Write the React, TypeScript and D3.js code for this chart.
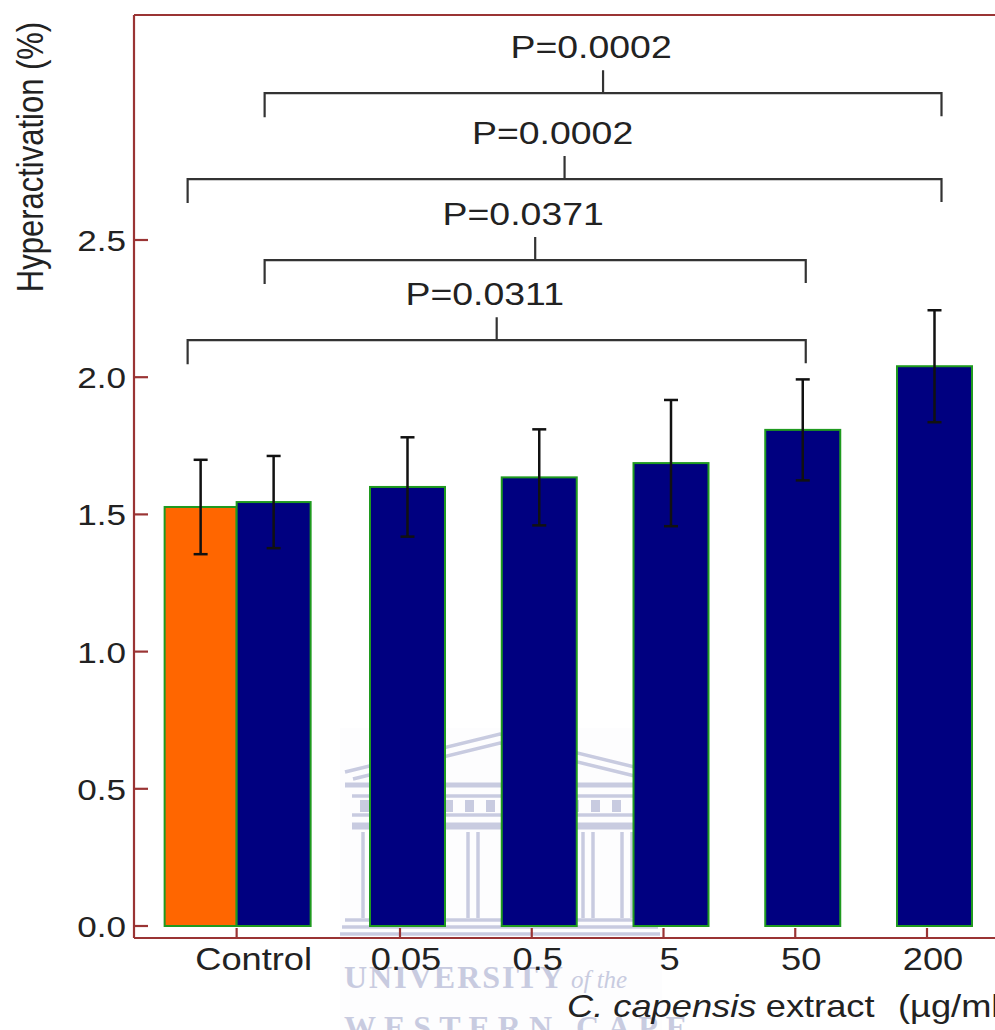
import React from "react";
import * as d3 from "d3";

// ---- data ----
const categories = ["Control", "0.05", "0.5", "5", "50", "200"];
const concentrations = ["0.05", "0.5", "5", "50", "200"];
const vehicleMean = [1.527]; // orange, control only
const vehicleErr = [0.172];
const extractMean = [1.545, 1.6, 1.635, 1.687, 1.808, 2.04];
const extractErr = [0.168, 0.181, 0.175, 0.23, 0.184, 0.204];
const yTicks = [0, 0.5, 1.0, 1.5, 2.0, 2.5];
const comparisonFrom = ["vehicle:Control", "extract:Control", "vehicle:Control", "extract:Control"];
const comparisonTo = ["extract:50", "extract:50", "extract:200", "extract:200"];
const comparisonP = ["P=0.0311", "P=0.0371", "P=0.0002", "P=0.0002"];
const comparisonLevel = [2.135, 2.427, 2.722, 3.035];

const W = 995;
const H = 1030;
const FONT = "'Liberation Sans', Arial, Helvetica, sans-serif";
const SERIF = "'Liberation Serif', 'DejaVu Serif', serif";
const SX = 1.17;
const AXIS = "#9a3434";
const TXT = "#222";
const WM = "#c8cbe0";

function SText({ x, y, anchor = "start", size = 31, children, style = {} }: any) {
  return (
    <text
      transform={`translate(${x},${y}) scale(${SX},1)`}
      textAnchor={anchor}
      fontFamily={FONT}
      fontSize={size}
      fill={TXT}
      style={style}
    >
      {children}
    </text>
  );
}

export default function App() {
  const left = 134;
  const top = 15;
  const axisY = 938;
  const y = d3.scaleLinear().domain([0, 2.5]).range([926, 240]);
  const x = d3.scalePoint<string>().domain(concentrations).range([400, 927]);
  const step = x.step();
  const tickX = (c: string) => (c === "Control" ? (x("0.05") as number) - 1.24 * step : (x(c) as number));
  const barW = 74;

  type Bar = { key: string; x0: number; x1: number; mean: number; err: number; fill: string };
  const bars: Bar[] = [];
  vehicleMean.forEach((m, i) => {
    const t = tickX("Control");
    bars.push({ key: "vehicle:Control", x0: t - 72, x1: t, mean: m, err: vehicleErr[i], fill: "#ff6600" });
  });
  categories.forEach((c, i) => {
    const t = tickX(c);
    const x0 = c === "Control" ? t : t - 30;
    bars.push({ key: "extract:" + c, x0, x1: x0 + barW + (c === "Control" ? 0 : 1), mean: extractMean[i], err: extractErr[i], fill: "#000080" });
  });
  const center = (k: string) => {
    const b = bars.find((bb) => bb.key === k)!;
    return (b.x0 + b.x1) / 2;
  };

  const brackets = comparisonP.map((p, i) => {
    const a = center(comparisonFrom[i]) - (comparisonFrom[i].startsWith("vehicle") ? 13 : 9);
    const b = center(comparisonTo[i]) + (comparisonTo[i].endsWith("200") ? 7 : 3);
    const yy = y(comparisonLevel[i]);
    return { a, b, yy, p, mid: (a + b) / 2 };
  });

  return (
    <svg width={W} height={H} style={{ position: "absolute", left: 0, top: 0, background: "#fff" }}>
      <rect x={0} y={0} width={W} height={H} fill="#fff" />
      {/* watermark */}
      <g stroke={WM} fill="none" strokeWidth={3.5}>
        <rect x={340} y={728} width={322} height={302} fill="#fdfdfe" stroke="none" />
        <path d="M345,772 L500,734 L655,772" />
        <path d="M353,779 L500,743 L647,779" />
        <line x1={345} y1={785} x2={655} y2={785} strokeWidth={5} />
        <line x1={352} y1={796} x2={648} y2={796} />
        {d3.range(0, 14).map((i) => (
          <rect key={i} x={360 + i * 21} y={800} width={9} height={12} fill={WM} stroke="none" />
        ))}
        <line x1={352} y1={815} x2={648} y2={815} />
        <line x1={352} y1={826} x2={648} y2={826} strokeWidth={7} />
        {[363, 372, 468, 478, 520, 530, 583, 593, 622, 632].map((cx, i) => (
          <line key={i} x1={cx} y1={832} x2={cx} y2={918} />
        ))}
        <line x1={345} y1={920} x2={655} y2={920} />
        <line x1={342} y1={927} x2={658} y2={927} />
        <line x1={340} y1={934} x2={660} y2={934} />
      </g>
      <text x={344} y={988} fontFamily={SERIF} fontSize={32} fontWeight="bold" fill={WM} letterSpacing={2}>
        UNIVERSITY
        <tspan fontStyle="italic" fontWeight="normal" fontSize={25} letterSpacing={0} dx={6}>of the</tspan>
      </text>
      <text x={344} y={1038} fontFamily={SERIF} fontSize={32} fontWeight="bold" fill={WM} letterSpacing={8}>
        WESTERN CAPE
      </text>

      {/* frame / axes */}
      <g stroke={AXIS} strokeWidth={2.2} fill="none">
        <line x1={left} y1={top} x2={W} y2={top} />
        <line x1={left} y1={top} x2={left} y2={axisY} />
        <line x1={left} y1={axisY} x2={W} y2={axisY} />
        {yTicks.map((t) => (
          <line key={t} x1={left} x2={left + 14} y1={y(t)} y2={y(t)} />
        ))}
        {categories.map((c) => (
          <line key={c} x1={tickX(c)} x2={tickX(c)} y1={axisY} y2={axisY - 10} />
        ))}
      </g>

      {yTicks.map((t) => (
        <SText key={t} x={126} y={y(t) + 11} anchor="end" size={30}>
          {d3.format(".1f")(t)}
        </SText>
      ))}
      {categories.map((c) => (
        <SText key={c} x={tickX(c) + (c === "Control" ? 17 : 6)} y={970} anchor="middle" size={31}>
          {c}
        </SText>
      ))}

      {bars.map((b) => (
        <rect
          key={b.key}
          x={b.x0}
          y={y(b.mean)}
          width={b.x1 - b.x0}
          height={y(0) - y(b.mean)}
          fill={b.fill}
          stroke="#1f9a1f"
          strokeWidth={2}
        />
      ))}
      <g stroke="#111" strokeWidth={2.5}>
        {bars.map((b) => {
          const cx = (b.x0 + b.x1) / 2;
          return (
            <g key={b.key}>
              <line x1={cx} x2={cx} y1={y(b.mean + b.err)} y2={y(b.mean - b.err)} />
              <line x1={cx - 7} x2={cx + 7} y1={y(b.mean + b.err)} y2={y(b.mean + b.err)} />
              <line x1={cx - 7} x2={cx + 7} y1={y(b.mean - b.err)} y2={y(b.mean - b.err)} />
            </g>
          );
        })}
      </g>

      {brackets.map((br, i) => (
        <g key={i}>
          <path
            d={`M${br.a},${br.yy + 24} V${br.yy} H${br.b} V${br.yy + 23} M${br.mid},${br.yy} V${br.yy - 23}`}
            stroke="#333"
            strokeWidth={2.2}
            fill="none"
          />
          <SText x={br.mid - 12} y={br.yy - 35} anchor="middle" size={32}>
            {br.p}
          </SText>
        </g>
      ))}

      <text
        transform={`translate(43,157) scale(${SX},1) rotate(-90)`}
        textAnchor="middle"
        fontFamily={FONT}
        fontSize={31}
        fill={TXT}
      >
        Hyperactivation (%)
      </text>
      <SText x={567} y={1017} size={31}>
        <tspan fontStyle="italic">C. capensis</tspan>
        <tspan dx={8}>extract</tspan>
        <tspan dx={20}>(µg/ml)</tspan>
      </SText>
    </svg>
  );
}
